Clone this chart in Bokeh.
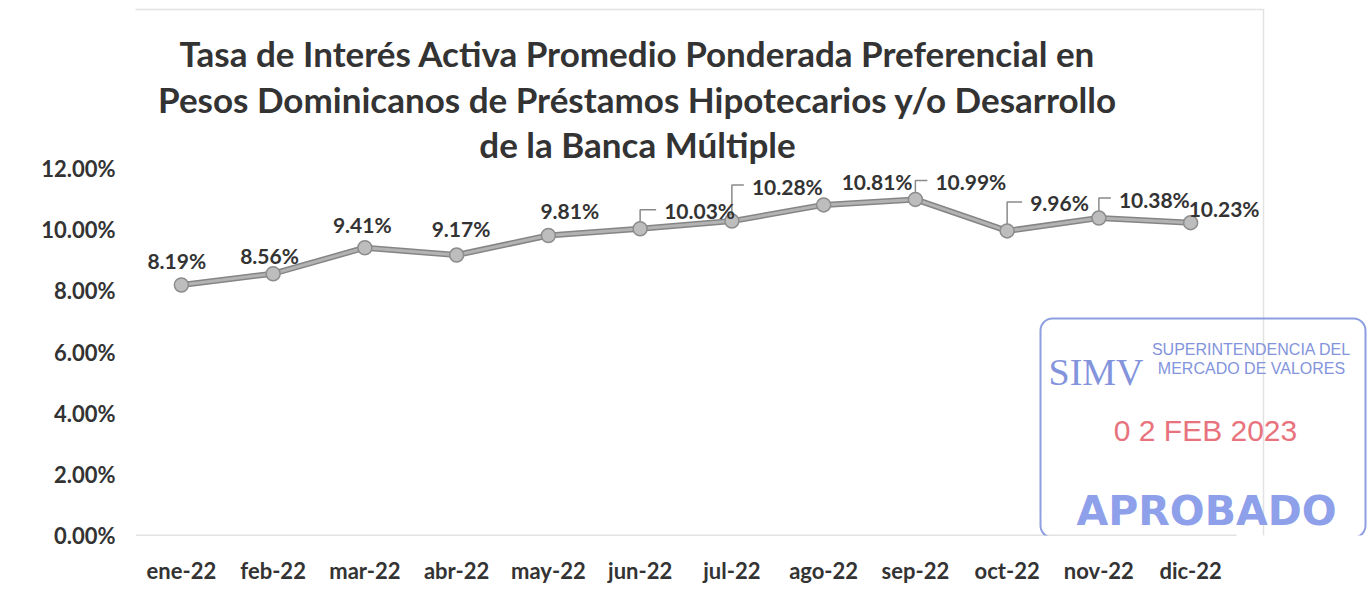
from bokeh.plotting import figure
from bokeh.models import (Range1d, FixedTicker, PrintfTickFormatter, Label,
                          BoxAnnotation, ColumnDataSource)
from bokeh.core.properties import value
from bokeh.embed import file_html
from bokeh.resources import INLINE

# ---------------- data ----------------
months = ["ene-22", "feb-22", "mar-22", "abr-22", "may-22", "jun-22",
          "jul-22", "ago-22", "sep-22", "oct-22", "nov-22", "dic-22"]
rates = [8.19, 8.56, 9.41, 9.17, 9.81, 10.03, 10.28, 10.81, 10.99, 9.96, 10.38, 10.23]
y_ticks = [0, 2, 4, 6, 8, 10, 12]
title_lines = ["Tasa de Interés Activa Promedio Ponderada Preferencial en",
               "Pesos Dominicanos de Préstamos Hipotecarios y/o Desarrollo",
               "de la Banca Múltiple"]

# label placement (screen px, relative to the point) and leader flag
lab_dx = [-34, -33, -32, -25, -8, 24, 20, 18, 20, 23, 20, -2]
lab_dy = [-25, -18, -23, -27, -25, -18, -35, -23, -18, -28, -19, -14]
leader = [0, 0, 0, 0, 0, 1, 1, 0, 1, 1, 1, 0]

W, H = 1368, 600
FL = 135                 # frame left (canvas px)
AX_R = 1236              # right end of the plotting area of the series
AX_T, FRAME_B = 168, 535 # 12% and 0% rows (canvas px)
font = "Lato"
txt_col = "#333333"

n = len(months)
step = (AX_R - FL) / n                  # px per category
ypx = (FRAME_B - AX_T) / max(y_ticks)   # px per percentage point
x_end = -0.5 + (W - FL) / step
y_end = FRAME_B / ypx


def sx(cx):   # canvas x -> frame-relative screen x
    return cx - FL


def sy(cy):   # canvas y (down) -> frame-relative screen y (up)
    return FRAME_B - cy


x = list(range(n))
p = figure(width=W, height=H, output_backend="svg", toolbar_location=None,
           x_range=Range1d(-0.5, x_end), y_range=Range1d(0, y_end),
           min_border_left=FL, min_border_right=0, min_border_top=0,
           min_border_bottom=H - FRAME_B, background_fill_color="white",
           border_fill_color="white", outline_line_color=None)
p.grid.visible = False

# axes
p.yaxis.ticker = FixedTicker(ticks=y_ticks)
p.yaxis.formatter = PrintfTickFormatter(format="%.2f%%")
p.yaxis.axis_line_color = None
p.yaxis.major_tick_line_color = None
p.yaxis.minor_tick_line_color = None
p.yaxis.major_tick_out = 0
p.yaxis.major_label_standoff = 20
p.yaxis.major_label_text_font = font
p.yaxis.major_label_text_font_style = "bold"
p.yaxis.major_label_text_font_size = "22px"
p.yaxis.major_label_text_color = txt_col

p.xaxis.ticker = FixedTicker(ticks=x)
p.xaxis.major_label_overrides = {i: m for i, m in enumerate(months)}
p.xaxis.axis_line_color = None
p.xaxis.major_tick_line_color = None
p.xaxis.minor_tick_line_color = None
p.xaxis.major_tick_out = 0
p.xaxis.major_label_standoff = 21
p.xaxis.major_label_text_font = font
p.xaxis.major_label_text_font_style = "bold"
p.xaxis.major_label_text_font_size = "22px"
p.xaxis.major_label_text_color = txt_col

# category-axis baseline spanning the categories only
p.line([x[0] - 0.5, x[-1] + 0.5], [y_ticks[0], y_ticks[0]],
       line_color="#c8c8c8", line_width=1.5)

# series line with darker edge
p.line(x, rates, line_color="#858585", line_width=6)
p.line(x, rates, line_color="#b3b3b3", line_width=3)

# leader lines (px offsets converted to data units)
lx, ly = [], []
for i, v in enumerate(rates):
    if leader[i]:
        ytop = v + (-lab_dy[i] + 1) / ypx
        xend = i + (lab_dx[i] - 8) / step
        lx.append([i, i, xend])
        ly.append([v, ytop, ytop])
p.multi_line(lx, ly, line_color="#8a8a8a", line_width=1.5)

p.scatter(x, rates, size=14, fill_color="#bdbdbd", line_color="#8c8c8c", line_width=1.5)

src = ColumnDataSource(dict(x=x, y=rates, t=["%.2f%%" % r for r in rates],
                            dx=lab_dx, dy=lab_dy))
p.text("x", "y", text="t", x_offset="dx", y_offset="dy", source=src,
       text_align="left", text_baseline="middle", text_font=value(font),
       text_font_style="bold", text_font_size="21px", text_color=txt_col)

# title (three centred lines)
title_y = [52, 98, 143]
for k, line in enumerate(title_lines):
    p.add_layout(Label(x=sx(637), y=sy(title_y[k]), x_units="screen", y_units="screen",
                       text=line, text_align="center", text_baseline="middle",
                       text_font=font, text_font_style="bold",
                       text_font_size="35px", text_color="#333333"))

# chart area outline (faint)
p.add_layout(BoxAnnotation(left=sx(-5), right=sx(1263), top=sy(9), bottom=sy(599),
                           left_units="screen", right_units="screen",
                           top_units="screen", bottom_units="screen",
                           fill_alpha=0, line_color="#e2e2e2", line_alpha=1,
                           line_width=1.5))

# approval stamp
p.add_layout(BoxAnnotation(left=sx(1040), right=sx(1365), top=sy(318), bottom=sy(537),
                           left_units="screen", right_units="screen",
                           top_units="screen", bottom_units="screen",
                           fill_alpha=0, line_color="#8e9ee2", line_alpha=1,
                           line_width=2, border_radius=12))
stamp_blue = "#8394dc"
p.add_layout(Label(x=sx(1048), y=sy(371), x_units="screen", y_units="screen",
                   text="SIMV", text_align="left", text_baseline="alphabetic",
                   text_font="Liberation Serif", text_font_size="38px",
                   text_color=stamp_blue))
p.add_layout(Label(x=sx(1251), y=sy(349), x_units="screen", y_units="screen",
                   text="SUPERINTENDENCIA DEL", text_align="center",
                   text_baseline="middle", text_font="Liberation Sans",
                   text_font_size="16px", text_color=stamp_blue))
p.add_layout(Label(x=sx(1251), y=sy(368), x_units="screen", y_units="screen",
                   text="MERCADO DE VALORES", text_align="center",
                   text_baseline="middle", text_font="Liberation Sans",
                   text_font_size="16px", text_color=stamp_blue))
p.add_layout(Label(x=sx(1205), y=sy(430), x_units="screen", y_units="screen",
                   text="0 2 FEB 2023", text_align="center",
                   text_baseline="middle", text_font="Liberation Sans",
                   text_font_size="30px", text_color="#e8737d"))
p.add_layout(Label(x=sx(1206), y=sy(510), x_units="screen", y_units="screen",
                   text="APROBADO", text_align="center",
                   text_baseline="middle", text_font="DejaVu Sans",
                   text_font_style="bold", text_font_size="41px",
                   text_color="#8ea0ea"))

open("out.html", "w").write(file_html(p, INLINE))
